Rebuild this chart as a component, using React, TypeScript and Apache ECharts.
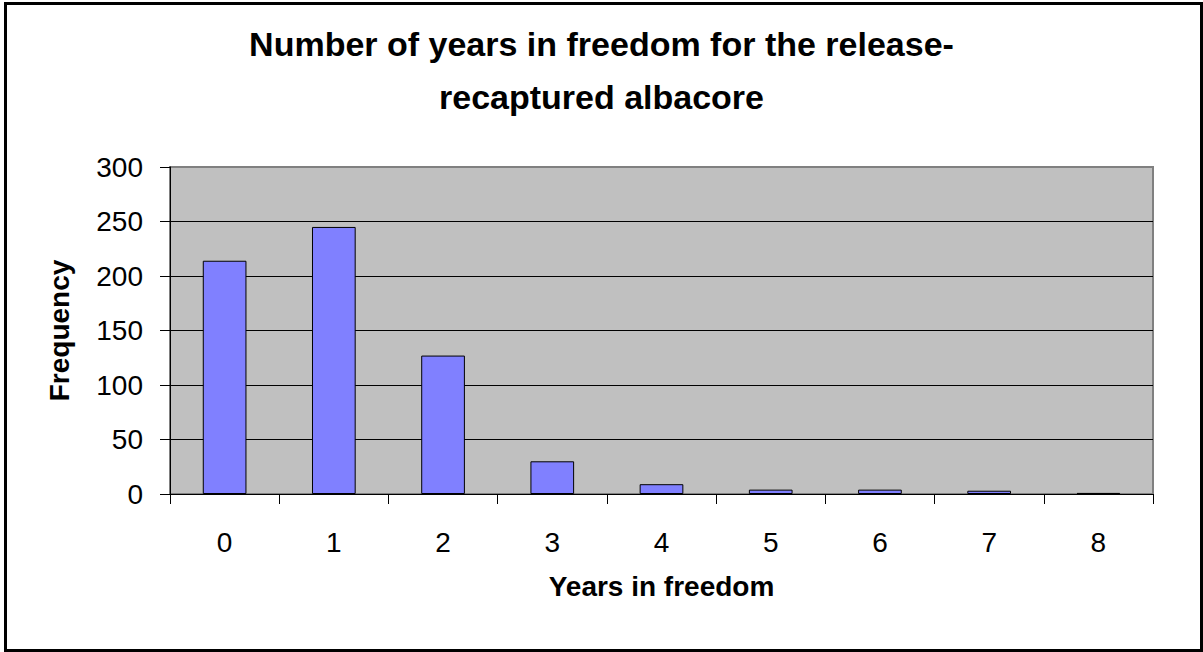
import React, { useEffect, useRef } from "react";
import * as echarts from "echarts";

const categories = ["0", "1", "2", "3", "4", "5", "6", "7", "8"];
const frequencies = [214, 245, 127, 30, 9, 4, 4, 3, 1];
const yTicks = { min: 0, max: 300, interval: 50 };
const titleText = "Number of years in freedom for the release-\nrecaptured albacore";
const xName = "Years in freedom";
const yName = "Frequency";

const FONT = "'Liberation Sans', Arial, sans-serif";

export default function App() {
  const ref = useRef<HTMLDivElement>(null);
  useEffect(() => {
    if (!ref.current) return;
    const chart = echarts.init(ref.current, null, { renderer: "svg" });
    chart.setOption({
      animation: false,
      backgroundColor: "#ffffff",
      title: {
        text: titleText,
        left: "center",
        top: 12,
        textStyle: {
          fontFamily: FONT,
          fontSize: 34,
          fontWeight: "bold",
          color: "#000",
          lineHeight: 53,
        },
      },
      graphic: [
        {
          type: "rect",
          shape: { x: 5.5, y: 3.5, width: 1196, height: 647 },
          style: { fill: "none", stroke: "#000", lineWidth: 3 },
          silent: true,
          z: 100,
        },
      ],
      grid: {
        left: 170,
        right: 50,
        top: 167,
        bottom: 158,
        show: true,
        backgroundColor: "#C0C0C0",
        borderColor: "#808080",
        borderWidth: 2,
      },
      xAxis: {
        type: "category",
        data: categories,
        name: xName,
        nameLocation: "middle",
        nameGap: 78,
        nameTextStyle: { fontFamily: FONT, fontSize: 28, fontWeight: "bold", color: "#000" },
        axisLine: { show: true, lineStyle: { color: "#000", width: 1 } },
        axisTick: { show: true, length: 10, lineStyle: { color: "#000" } },
        axisLabel: { fontFamily: FONT, fontSize: 28, color: "#000", margin: 34 },
      },
      yAxis: {
        type: "value",
        min: yTicks.min,
        max: yTicks.max,
        interval: yTicks.interval,
        name: yName,
        nameLocation: "middle",
        nameGap: 97,
        nameRotate: 90,
        nameTextStyle: { fontFamily: FONT, fontSize: 28, fontWeight: "bold", color: "#000" },
        axisLine: { show: true, lineStyle: { color: "#000", width: 1 } },
        axisTick: { show: true, length: 10, lineStyle: { color: "#000" } },
        axisLabel: { fontFamily: FONT, fontSize: 28, color: "#000", margin: 27 },
        splitLine: {
          show: true,
          lineStyle: { color: ["#000", "#000", "#000", "#000", "#000", "#000", "#808080"], width: 1 },
        },
      },
      series: [
        {
          type: "bar",
          data: frequencies,
          barCategoryGap: "60%",
          itemStyle: { color: "#8080FF", borderColor: "#000", borderWidth: 1 },
        },
      ],
    });
    return () => chart.dispose();
  }, []);
  return (
    <div
      ref={ref}
      style={{ position: "absolute", left: 0, top: 0, width: 1203, height: 652 }}
    />
  );
}
